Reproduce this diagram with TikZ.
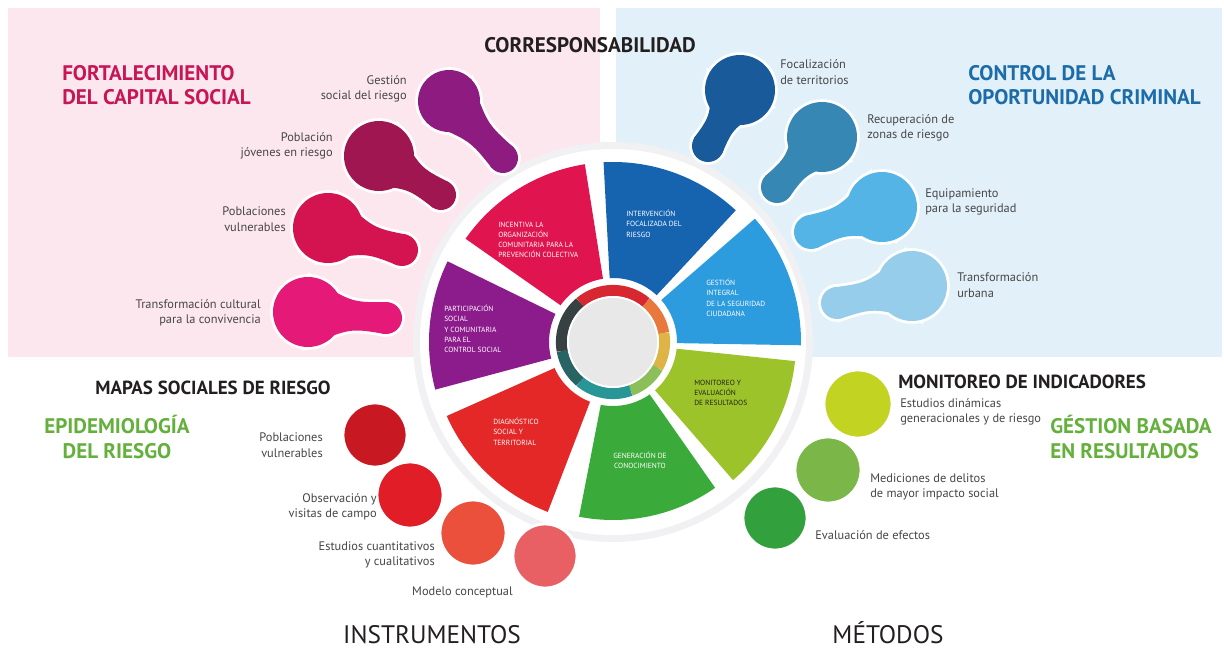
\documentclass[tikz,border=0pt]{standalone}
\usepackage{fontspec}
\setmainfont{PT Sans}
\usetikzlibrary{calc}

\definecolor{pinkbg}{RGB}{252,231,239}
\definecolor{bluebg}{RGB}{226,240,249}
\definecolor{halo}{RGB}{241,241,243}
\definecolor{ink}{RGB}{35,31,32}
\definecolor{labelgray}{RGB}{70,70,70}
\definecolor{capital}{RGB}{200,22,85}
\definecolor{control}{RGB}{28,108,170}
\definecolor{gestion}{RGB}{100,176,60}
% wheel
\definecolor{segcrimson}{RGB}{224,20,78}
\definecolor{segblue}{RGB}{22,100,176}
\definecolor{segsky}{RGB}{44,156,222}
\definecolor{seglime}{RGB}{156,196,42}
\definecolor{seggreen}{RGB}{58,170,58}
\definecolor{segred}{RGB}{228,40,40}
\definecolor{segpurple}{RGB}{140,28,140}
% bulbs and dots
\definecolor{bulbA}{RGB}{142,28,128}
\definecolor{bulbB}{RGB}{160,22,80}
\definecolor{bulbC}{RGB}{212,20,80}
\definecolor{bulbD}{RGB}{228,25,120}
\definecolor{bulbE}{RGB}{25,90,155}
\definecolor{bulbF}{RGB}{55,135,180}
\definecolor{bulbG}{RGB}{85,180,230}
\definecolor{bulbH}{RGB}{150,205,235}
\definecolor{dotA}{RGB}{200,25,35}
\definecolor{dotB}{RGB}{225,30,40}
\definecolor{dotC}{RGB}{235,80,60}
\definecolor{dotD}{RGB}{232,95,100}
\definecolor{dotE}{RGB}{194,211,34}
\definecolor{dotF}{RGB}{122,182,72}
\definecolor{dotG}{RGB}{50,160,60}

% head, head radius, tail, tail radius, colour
\newcommand{\bulb}[5]{%
  \coordinate (bh) at #1;
  \coordinate (bt) at #3;
  \coordinate (bm) at ($(bh)!0.55!(bt)$);
  \coordinate (n1) at ($(bh)!#2*0.025cm!90:(bt)$);
  \coordinate (n2) at ($(bt)!#4*0.025cm!-90:(bh)$);
  \coordinate (n3) at ($(bt)!#4*0.025cm!90:(bh)$);
  \coordinate (n4) at ($(bh)!#2*0.025cm!-90:(bt)$);
  \coordinate (w1) at ($(bm)!#4*0.02cm!90:(bt)$);
  \coordinate (w2) at ($(bm)!#4*0.02cm!-90:(bt)$);
  \draw[white, line width=4pt, fill=white] (bh) circle (#2) (bt) circle (#4);
  \draw[white, line width=4pt, fill=white] (n1) .. controls (w1) .. (n2) -- (n3) .. controls (w2) .. (n4) -- cycle;
  \fill[#5] (bh) circle (#2);
  \fill[#5] (bt) circle (#4);
  \fill[#5] (n1) .. controls (w1) .. (n2) -- (n3) .. controls (w2) .. (n4) -- cycle;
}
% from, to, outer radius, colour
\newcommand{\sector}[4]{%
  \fill[#4] ($(C)+(#1:64)$) -- ($(C)+(#1:#3)$) arc[start angle=#1, end angle=#2, radius=#3]
    -- ($(C)+(#2:64)$) arc[start angle=#2, end angle=#1, radius=64] -- cycle;
}

\begin{document}
\begin{tikzpicture}[x=0.025cm, y=0.025cm,
  lbl/.style={text=labelgray, font=\fontsize{8.8}{11}\selectfont, inner sep=0pt},
  head/.style={font=\bfseries\fontsize{15}{17.5}\selectfont, inner sep=0pt},
  subhead/.style={font=\bfseries\fontsize{13.5}{16}\selectfont, inner sep=0pt, text=ink},
  foot/.style={text=ink, font=\fontsize{18}{20}\selectfont, inner sep=0pt, anchor=base},
  segtxt/.style={text=white, font=\fontsize{5.3}{7.2}\selectfont, inner sep=0pt, align=left, anchor=north west},
  dot/.style={circle, draw=white, line width=2pt, minimum size=#1*0.025cm, inner sep=0pt}]
  \useasboundingbox (0,0) rectangle (1224,-650);
  \fill[white] (0,0) rectangle (1224,-650);
  \fill[pinkbg] (8,-8) rectangle (600,-357);
  \fill[bluebg] (616,-8) rectangle (1222,-357);

  \coordinate (C) at (613,-342);
  \fill[halo] (C) circle (200);
  \fill[white] (C) circle (193);

  \sector{-1}{41}{188}{segsky}
  \sector{47}{93}{180}{segblue}
  \sector{99}{145}{180}{segcrimson}
  \sector{154}{195}{184}{segpurple}
  \sector{204}{249}{182}{segred}
  \sector{259}{305}{178}{seggreen}
  \sector{311}{354}{183}{seglime}

  % centre ring
  \fill[white] (C) circle (61);
  \foreach \a/\b/\c in {50/130/{rgb,255:red,215;green,40;blue,50}, 10/50/{rgb,255:red,232;green,120;blue,60},
      -30/10/{rgb,255:red,222;green,180;blue,70}, -70/-30/{rgb,255:red,140;green,190;blue,90},
      -130/-70/{rgb,255:red,40;green,150;blue,150}, -170/-130/{rgb,255:red,40;green,100;blue,100},
      130/190/{rgb,255:red,55;green,65;blue,65}}
    \draw[color=\c, line width=0.28cm] ($(C)+(\a:51.5)$) arc[start angle=\a, end angle=\b, radius=51.5];
  \fill[white] (C) circle (46);
  \fill[gray!18] (C) circle (44);

  \node[segtxt] (s-crimson) at (498,-222) {INCENTIVA LA\\ORGANIZACIÓN\\COMUNITARIA PARA LA\\PREVENCIÓN COLECTIVA};
  \node[segtxt] (s-blue) at (626,-210) {INTERVENCIÓN\\FOCALIZADA DEL\\RIESGO};
  \node[segtxt] (s-sky) at (706,-279) {GESTIÓN\\INTEGRAL\\DE LA SEGURIDAD\\CIUDADANA};
  \node[segtxt] (s-purple) at (444,-305) {PARTICIPACIÓN\\SOCIAL\\Y COMUNITARIA\\PARA EL\\CONTROL SOCIAL};
  \node[segtxt] (s-red) at (493,-418) {DIAGNÓSTICO\\SOCIAL Y\\TERRITORIAL};
  \node[segtxt, align=center, anchor=center] (s-green) at (640,-460) {GENERACIÓN DE\\CONOCIMIENTO};
  \node[segtxt, text=ink] (s-lime) at (694,-380) {MONITOREO Y\\EVALUACIÓN\\DE RESULTADOS};

  % bulbs
  \bulb{(449,-101)}{31}{(503,-158)}{15}{bulbA}
  \bulb{(379,-156)}{35}{(441,-195)}{15}{bulbB}
  \bulb{(328,-228)}{35}{(402,-250)}{16}{bulbC}
  \bulb{(308,-312)}{35}{(386,-318)}{16}{bulbD}
  \bulb{(740,-90)}{35}{(708,-146)}{16}{bulbE}
  \bulb{(822,-137)}{35}{(777,-187)}{16}{bulbF}
  \bulb{(882,-207)}{35}{(811,-232)}{17}{bulbG}
  \bulb{(912,-286)}{35}{(837,-303)}{16}{bulbH}

  \node[dot=64, fill=dotA] (d-pobl) at (375,-435) {};
  \node[dot=66, fill=dotB] (d-obs) at (410,-495) {};
  \node[dot=66, fill=dotC] (d-est) at (473,-533) {};
  \node[dot=64, fill=dotD] (d-mod) at (545,-556) {};
  \node[dot=68, fill=dotE] (d-din) at (858,-404) {};
  \node[dot=66, fill=dotF] (d-med) at (828,-470) {};
  \node[dot=64, fill=dotG] (d-eval) at (775,-518) {};

  % labels
  \node[lbl, align=right, anchor=east] (l-gestion) at (407,-89) {Gestión\\social del riesgo};
  \node[lbl, align=right, anchor=east] (l-jovenes) at (333,-146) {Población\\jóvenes en riesgo};
  \node[lbl, align=right, anchor=east] (l-vulner) at (286,-219) {Poblaciones\\vulnerables};
  \node[lbl, align=right, anchor=east] (l-cultura) at (261,-313) {Transformación cultural\\para la convivencia};
  \node[lbl, align=left, anchor=west] (l-focal) at (780,-72) {Focalización\\de territorios};
  \node[lbl, align=left, anchor=west] (l-recup) at (867,-128) {Recuperación de\\zonas de riesgo};
  \node[lbl, align=left, anchor=west] (l-equip) at (925,-202) {Equipamiento\\para la seguridad};
  \node[lbl, align=left, anchor=west] (l-urbana) at (957,-285) {Transformación\\urbana};
  \node[lbl, align=right, anchor=east] (l-pobl) at (323,-445) {Poblaciones\\vulnerables};
  \node[lbl, align=right, anchor=east] (l-obs) at (377,-507) {Observación y\\visitas de campo};
  \node[lbl, align=right, anchor=east] (l-est) at (435,-555) {Estudios cuantitativos\\y cualitativos};
  \node[lbl, align=right, anchor=east] (l-mod) at (513,-592) {Modelo conceptual};
  \node[lbl, align=left, anchor=west] (l-din) at (900,-412) {Estudios dinámicas\\generacionales y de riesgo};
  \node[lbl, align=left, anchor=west] (l-med) at (870,-487) {Mediciones de delitos\\de mayor impacto social};
  \node[lbl, align=left, anchor=west] (l-eval) at (815,-535) {Evaluación de efectos};

  % headings
  \node[head, text=ink] (h-corr) at (590,-45) {CORRESPONSABILIDAD};
  \node[head, text=capital, align=left, anchor=west] (h-capital) at (62,-85) {FORTALECIMIENTO\\DEL CAPITAL SOCIAL};
  \node[head, text=control, align=left, anchor=west] (h-control) at (968,-85) {CONTROL DE LA\\OPORTUNIDAD CRIMINAL};
  \node[subhead] (h-mapas) at (213,-388) {MAPAS SOCIALES DE RIESGO};
  \node[head, text=gestion, align=center] (h-epid) at (117,-437) {EPIDEMIOLOGÍA\\DEL RIESGO};
  \node[subhead, anchor=west] (h-monit) at (898,-382) {MONITOREO DE INDICADORES};
  \node[head, text=gestion, align=left, anchor=west] (h-gestion) at (1050,-437) {GÉSTION BASADA\\EN RESULTADOS};
  \node[foot] (h-instr) at (432,-643) {INSTRUMENTOS};
  \node[foot] (h-metod) at (888,-643) {MÉTODOS};
\end{tikzpicture}
\end{document}
